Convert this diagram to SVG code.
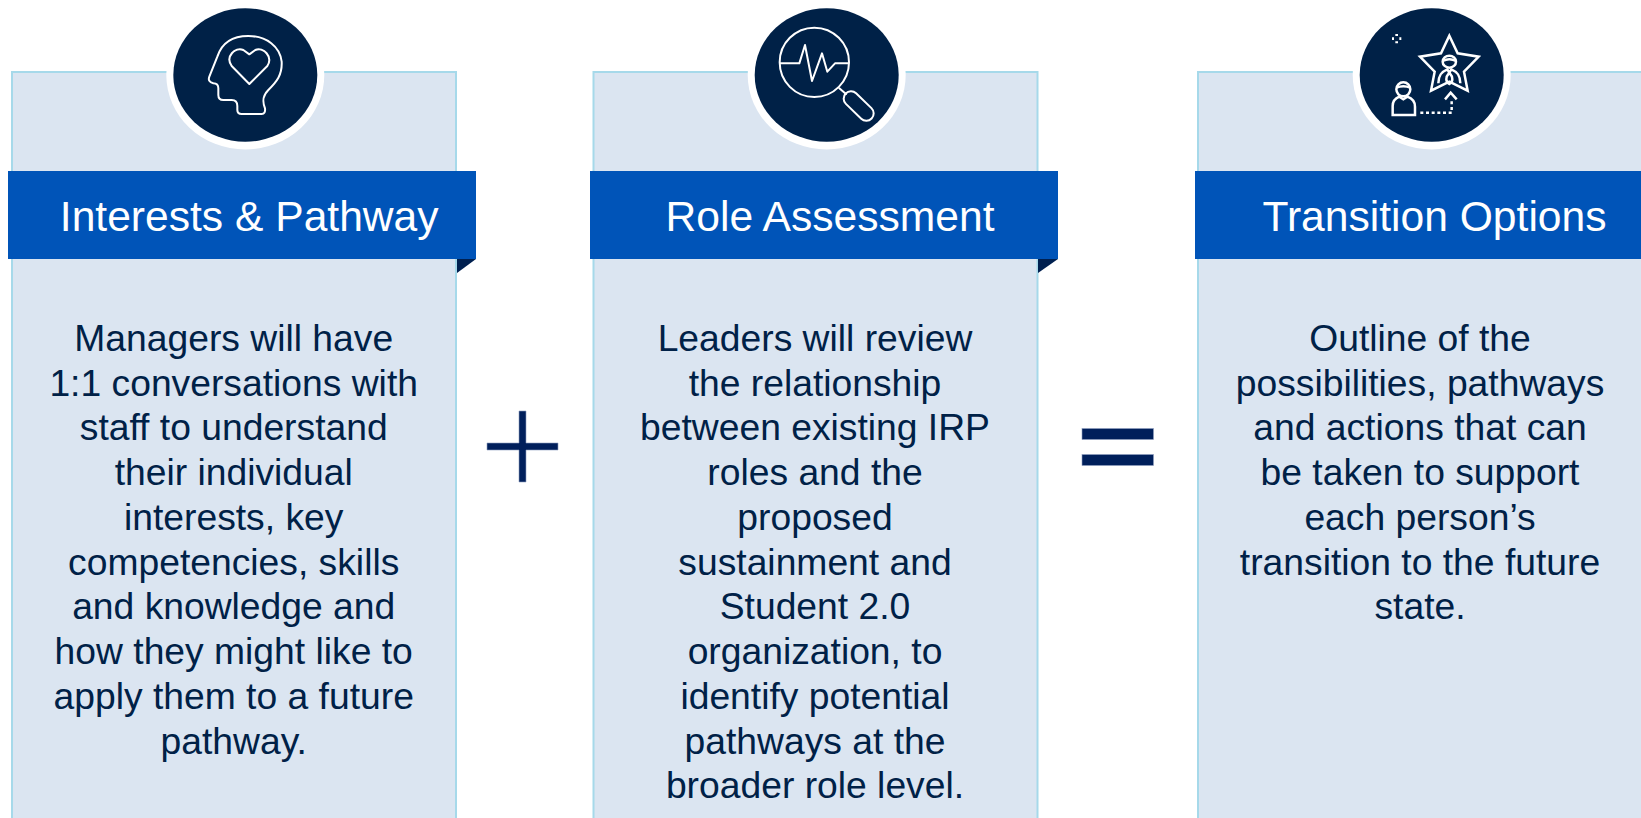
<svg xmlns="http://www.w3.org/2000/svg" width="1641" height="818" viewBox="0 0 1641 818">
<style>
.panel{fill:#dbe5f1;stroke:#a6d9ea;stroke-width:2}
.band{fill:#0054b8}
.fold{fill:#002050}
.halo{fill:#fff}
.disc{fill:#002147}
.ic{fill:none;stroke:#fff;stroke-width:6;stroke-linejoin:round;stroke-linecap:round}
.ic2{fill:none;stroke:#fff;stroke-width:7.5;stroke-linejoin:miter;stroke-linecap:butt}
.title{font-family:"Liberation Sans",Arial,sans-serif;font-size:42.6px;fill:#fff;text-anchor:middle}
.body{font-family:"Liberation Sans",Arial,sans-serif;font-size:37.25px;fill:#002147;text-anchor:middle}
.op{fill:#001f5b;stroke:#8f9fc0;stroke-width:.6}
</style>
<rect width="1641" height="818" fill="#fff"/>
<g id="node-interests">
<rect class="panel" x="12" y="72" width="444" height="760"/>
<path class="fold" d="M457 259H476L457 273Z"/>
<rect class="band" x="8" y="171" width="468" height="88"/>
<ellipse class="halo" cx="245.3" cy="75" rx="79" ry="74.5"/>
<ellipse class="disc" cx="245.3" cy="75" rx="72" ry="66.7"/>
<g transform="scale(.33333)">
<path class="ic" d="M725 342H785Q797 342 795 325C785 300 790 285 805 270C830 245 847 225 845 185C840 140 800 108 745 108C695 108 665 130 652 170L628 230Q622 245 640 250Q655 250 655 265V285Q655 300 670 300H695Q712 300 712 318V330Q712 342 725 342Z"/>
<path class="ic" d="M748 252L695 198C675 170 705 140 730 150L748 163L766 150C790 140 820 170 802 198Z"/>
</g>
<text class="title" x="249.2" y="231">Interests &amp; Pathway</text>
<text class="body" y="350.8"><tspan x="233.7">Managers will have</tspan><tspan x="233.7" dy="44.75">1:1 conversations with</tspan><tspan x="233.7" dy="44.75">staff to understand</tspan><tspan x="233.7" dy="44.75">their individual</tspan><tspan x="233.7" dy="44.75">interests, key</tspan><tspan x="233.7" dy="44.75">competencies, skills</tspan><tspan x="233.7" dy="44.75">and knowledge and</tspan><tspan x="233.7" dy="44.75">how they might like to</tspan><tspan x="233.7" dy="44.75">apply them to a future</tspan><tspan x="233.7" dy="44.75">pathway.</tspan></text>
</g>
<g id="node-role">
<rect class="panel" x="593.500" y="72" width="444" height="760"/>
<path class="fold" d="M1038 259H1058L1038 273Z"/>
<rect class="band" x="590" y="171" width="468" height="88"/>
<ellipse class="halo" cx="826.700" cy="75" rx="79" ry="74.500"/>
<ellipse class="disc" cx="826.700" cy="75" rx="72" ry="66.700"/>
<g transform="translate(590 0) scale(.33333)">
<circle class="ic" cx="673" cy="187" r="104"/>
<path class="ic" d="M570 190H628L645 135L666 243L696 160L712 215L735 190H775"/>
<path class="ic" d="M748 265L768 282"/>
<rect class="ic" x="-54" y="-22" width="108" height="44" rx="22" transform="translate(806 318) rotate(44)"/>
</g>
<text class="title" x="830" y="231">Role Assessment</text>
<text class="body" y="350.8"><tspan x="815">Leaders will review</tspan><tspan x="815" dy="44.75">the relationship</tspan><tspan x="815" dy="44.75">between existing IRP</tspan><tspan x="815" dy="44.75">roles and the</tspan><tspan x="815" dy="44.75">proposed</tspan><tspan x="815" dy="44.75">sustainment and</tspan><tspan x="815" dy="44.75">Student 2.0</tspan><tspan x="815" dy="44.75">organization, to</tspan><tspan x="815" dy="44.75">identify potential</tspan><tspan x="815" dy="44.75">pathways at the</tspan><tspan x="815" dy="44.75">broader role level.</tspan></text>
</g>
<g id="node-transition">
<rect class="panel" x="1198" y="72" width="480" height="760"/>
<rect class="band" x="1195" y="171" width="446" height="88"/>
<ellipse class="halo" cx="1431.700" cy="75" rx="79" ry="74.500"/>
<ellipse class="disc" cx="1431.700" cy="75" rx="72" ry="66.700"/>
<g transform="translate(1190 0) scale(.33333)">
<path class="ic2" d="M778 107L803 160L866 170L822 215L833 272L778 245L723 272L734 215L690 170L753 160Z"/>
<ellipse class="ic2" cx="778" cy="185" rx="20" ry="18"/>
<path class="ic2" d="M758 183Q778 173 798 183"/>
<path class="ic2" d="M745 250C745 225 755 215 772 208L778 218L784 208C801 215 811 225 811 250"/>
<path class="ic2" d="M778 218C766 232 766 245 778 252C790 245 790 232 778 218Z"/>
<circle class="ic2" cx="640" cy="268" r="21"/>
<path class="ic2" d="M619 263Q640 254 661 263"/>
<path class="ic2" d="M608 345V318Q608 298 628 290L640 298L652 290Q675 298 675 320V345Z"/>
<path class="ic2" d="M691 338H785V300" stroke-dasharray="9 8"/>
<path class="ic2" d="M765 298L782 278L800 298"/>
<path fill="#fff" d="M616 102h8v6h-8zM616 124h8v6h-8zM606 112h6v8h-6zM628 112h6v8h-6z"/>
</g>
<text class="title" x="1434.500" y="231">Transition Options</text>
<text class="body" y="350.8"><tspan x="1420">Outline of the</tspan><tspan x="1420" dy="44.75">possibilities, pathways</tspan><tspan x="1420" dy="44.75">and actions that can</tspan><tspan x="1420" dy="44.75">be taken to support</tspan><tspan x="1420" dy="44.75">each person’s</tspan><tspan x="1420" dy="44.75">transition to the future</tspan><tspan x="1420" dy="44.75">state.</tspan></text>
</g>
<g id="node-plus">
<path class="op" d="M519 411H526V443H558V450H526V482H519V450H487V443H519Z"/>
</g>
<g id="node-equals">
<rect class="op" x="1082" y="428.500" width="71.500" height="11"/>
<rect class="op" x="1082" y="454.500" width="71.500" height="11"/>
</g>
</svg>
